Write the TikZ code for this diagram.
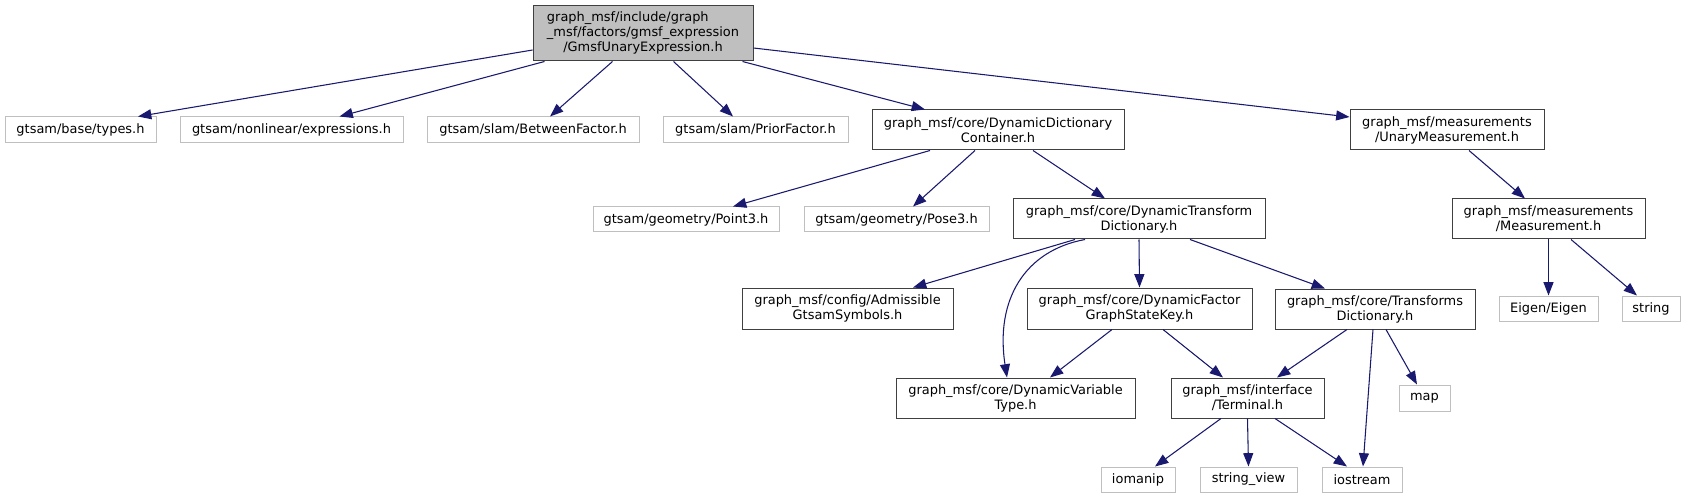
\documentclass[tikz,border=0pt]{standalone}
\usepackage{fontspec}
\setmainfont{DejaVu Sans}
\usetikzlibrary{arrows.meta,calc}
\definecolor{edgeblue}{HTML}{191970}
\definecolor{dkline}{HTML}{404040}
\definecolor{ltline}{HTML}{BFBFBF}
\definecolor{rootfill}{HTML}{BFBFBF}
\begin{document}
\begin{tikzpicture}[x=0.75pt,y=-0.75pt,
  every node/.style={font=\fontsize{9.7}{11.3}\selectfont, inner sep=0pt, align=center},
  box/.style 2 args={minimum width=#1*0.75pt, minimum height=#2*0.75pt},
  dk/.style={draw=dkline, line width=0.75pt, fill=white},
  lt/.style={draw=ltline, line width=0.75pt, fill=white},
  conn/.style={draw=edgeblue, line width=0.8pt, -{Triangle[length=10pt,width=7.5pt]}},
]
\useasboundingbox (0,0) rectangle (1686,499);
% nodes
\node[dk, fill=rootfill, box={220}{55}] (root) at (643,33.5)
  {\begin{tabular}{@{}c@{}}\multicolumn{1}{@{}l@{}}{graph\_msf/include/graph}\\ \_msf/factors/gmsf\_expression\\ /GmsfUnaryExpression.h\end{tabular}};
\node[lt, box={151}{26}] (types) at (80.5,130) {gtsam/base/types.h};
\node[lt, box={223}{26}] (expr) at (291.5,130) {gtsam/nonlinear/expressions.h};
\node[lt, box={212}{26}] (between) at (533,130) {gtsam/slam/BetweenFactor.h};
\node[lt, box={185}{26}] (prior) at (755.5,130) {gtsam/slam/PriorFactor.h};
\node[dk, box={252}{40}] (ddc) at (998,130) {graph\_msf/core/DynamicDictionary\\Container.h};
\node[dk, box={194}{40}] (unary) at (1447,130) {graph\_msf/measurements\\/UnaryMeasurement.h};
\node[lt, box={186}{25}] (point3) at (686,219.5) {gtsam/geometry/Point3.h};
\node[lt, box={185}{25}] (pose3) at (896.5,219.5) {gtsam/geometry/Pose3.h};
\node[dk, box={252}{40}] (dtd) at (1139,219) {graph\_msf/core/DynamicTransform\\Dictionary.h};
\node[dk, box={193}{40}] (meas) at (1548.5,219) {graph\_msf/measurements\\/Measurement.h};
\node[dk, box={211}{41}] (adm) at (847.5,308.5) {graph\_msf/config/Admissible\\GtsamSymbols.h};
\node[dk, box={225}{41}] (dfgsk) at (1139.5,308.5) {graph\_msf/core/DynamicFactor\\GraphStateKey.h};
\node[dk, box={200}{40}] (td) at (1375,309) {graph\_msf/core/Transforms\\Dictionary.h};
\node[lt, box={99}{25}] (eigen) at (1548.5,308.5) {Eigen/Eigen};
\node[lt, box={58}{25}] (string) at (1651,308.5) {string};
\node[dk, box={239}{40}] (dvt) at (1015.5,398) {graph\_msf/core/DynamicVariable\\Type.h};
\node[dk, box={153}{40}] (terminal) at (1247.5,398) {graph\_msf/interface\\/Terminal.h};
\node[lt, box={51}{26}] (map) at (1424.5,398) {map};
\node[lt, box={74}{25}] (iomanip) at (1138,479.5) {iomanip};
\node[lt, box={97}{25}] (strview) at (1248.5,479.5) {string\_view};
\node[lt, box={80}{25}] (iostream) at (1362,479.5) {iostream};
% connectors
\draw[conn] ($(root.west)+(0,16.5)$) -- ($(types.north)+(57.5,0)$);
\draw[conn] ($(root.south west)+(12,0)$) -- ($(expr.north)+(48,0)$);
\draw[conn] ($(root.south west)+(80,0)$) -- ($(between.north)+(17,0)$);
\draw[conn] ($(root.south west)+(141,0)$) -- ($(prior.north)+(-22.5,0)$);
\draw[conn] ($(root.south west)+(210,0)$) -- ($(ddc.north)+(-73,0)$);
\draw[conn] ($(root.east)+(0,14.5)$) -- ($(unary.west)+(0,-13)$);
\draw[conn] ($(ddc.south)+(-68,0)$) -- ($(point3.north)+(47,0)$);
\draw[conn] ($(ddc.south)+(-23,0)$) -- ($(pose3.north)+(16.5,0)$);
\draw[conn] ($(ddc.south)+(35,0)$) -- ($(dtd.north)+(-34,0)$);
\draw[conn] ($(unary.south)+(22,0)$) -- ($(meas.north)+(-23.5,0)$);
\draw[conn] (meas.south) -- (eigen.north);
\draw[conn] ($(meas.south)+(22.5,0)$) -- ($(string.north)+(-14,0)$);
\draw[conn] ($(dtd.south)+(-64,0)$) -- ($(adm.north)+(65.5,0)$);
\draw[conn] ($(dtd.south)+(-54,0)$) .. controls +(-60,11) and +(-12,-78) .. ($(dvt.north)+(-8.5,0)$);
\draw[conn] (dtd.south) -- (dfgsk.north);
\draw[conn] ($(dtd.south)+(51,0)$) -- ($(td.north)+(-50,0)$);
\draw[conn] ($(dfgsk.south)+(-27.5,0)$) -- ($(dvt.north)+(34.5,0)$);
\draw[conn] ($(dfgsk.south)+(23.5,0)$) -- ($(terminal.north)+(-24.5,0)$);
\draw[conn] ($(td.south)+(-28,0)$) -- ($(terminal.north)+(29.5,0)$);
\draw[conn] ($(td.south)+(-2,0)$) -- ($(iostream.north)+(1,0)$);
\draw[conn] ($(td.south)+(11,0)$) -- ($(map.north)+(-7.5,0)$);
\draw[conn] ($(terminal.south)+(-26.5,0)$) -- ($(iomanip.north)+(17,0)$);
\draw[conn] (terminal.south) -- (strview.north);
\draw[conn] ($(terminal.south)+(27.5,0)$) -- ($(iostream.north)+(-15,0)$);
\end{tikzpicture}
\end{document}
